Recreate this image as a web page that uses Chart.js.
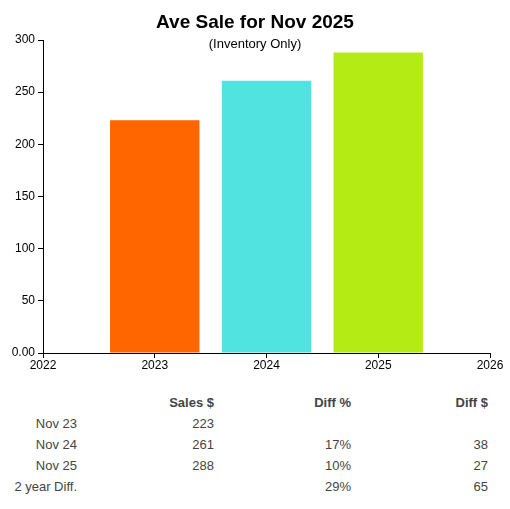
<!DOCTYPE html>
<html lang="en">

<head>
    <meta charset="UTF-8">
    <title>Ave Sale</title>
    <script src="https://cdn.jsdelivr.net/npm/chart.js"></script>
    <style>
        body {
            margin: 0;
            background: #fff;
            font-family: "Liberation Sans", Arial, sans-serif;
        }

        .page {
            position: relative;
            width: 510px;
            height: 509px;
        }

        .chart-box {
            position: absolute;
            left: 0;
            top: 0;
            width: 510px;
            height: 375px;
        }

        .title {
            position: absolute;
            left: 0;
            width: 510px;
            text-align: center;
            color: #000;
        }

        #mainTitle {
            top: 10px;
            font-size: 19px;
            font-weight: bold;
            line-height: 24px;
        }

        #subTitle {
            top: 36px;
            font-size: 13px;
            line-height: 16px;
        }

        /* summary table under the chart */
        #summary {
            position: absolute;
            left: 0;
            top: 392px;
            border-collapse: collapse;
            table-layout: fixed;
            color: #444;
            font-size: 13px;
        }

        #summary td,
        #summary th {
            padding: 0;
            height: 21px;
            text-align: right;
            white-space: nowrap;
        }

        #summary th {
            font-weight: bold;
        }
    </style>
</head>

<body>
    <div class="page">
        <div class="chart-box">
            <canvas id="saleChart"></canvas>
        </div>
        <div class="title" id="mainTitle">Ave Sale for Nov 2025</div>
        <div class="title" id="subTitle">(Inventory Only)</div>

        <table id="summary">
            <colgroup>
                <col style="width:77px">
                <col style="width:137px">
                <col style="width:137px">
                <col style="width:137px">
            </colgroup>
            <thead>
                <tr>
                    <th></th>
                    <th>Sales $</th>
                    <th>Diff %</th>
                    <th>Diff $</th>
                </tr>
            </thead>
            <tbody id="summaryBody"></tbody>
        </table>
    </div>

    <script>
        // chart data
        const years = [2023, 2024, 2025];
        const aveSales = [223, 261, 288];
        const barColors = ['#ff6600', '#50e3e0', '#b5eb14'];

        // table data
        const rowLabels = ['Nov 23', 'Nov 24', 'Nov 25', '2 year Diff.'];
        const salesCol = ['223', '261', '288', ''];
        const diffPctCol = ['', '17%', '10%', '29%'];
        const diffAmtCol = ['', '38', '27', '65'];

        Chart.defaults.font.family = '"Liberation Sans", Arial, sans-serif';
        Chart.defaults.font.size = 12;
        Chart.defaults.color = '#000';

        const ctx = document.getElementById('saleChart').getContext('2d');
        new Chart(ctx, {
            type: 'bar',
            data: {
                datasets: [{
                    label: 'Ave Sale',
                    data: years.map((yr, i) => ({ x: yr, y: aveSales[i] })),
                    backgroundColor: barColors,
                    borderWidth: 0,
                    categoryPercentage: 0.8,
                    barPercentage: 1
                }]
            },
            options: {
                responsive: true,
                maintainAspectRatio: false,
                animation: false,
                layout: {
                    padding: { top: 40, right: 20, left: 0, bottom: 0 }
                },
                plugins: {
                    legend: { display: false },
                    tooltip: { enabled: false }
                },
                scales: {
                    x: {
                        type: 'linear',
                        offset: false,
                        min: 2022,
                        max: 2026,
                        ticks: {
                            stepSize: 1,
                            padding: 0,
                            callback: v => String(v)
                        },
                        grid: {
                            offset: false,
                            drawOnChartArea: false,
                            color: '#000',
                            tickLength: 5
                        },
                        border: { color: '#000' },
                        afterFit: scale => { scale.height = 22; }
                    },
                    y: {
                        min: 0,
                        max: 300,
                        ticks: {
                            stepSize: 50,
                            padding: 3,
                            callback: v => v === 0 ? '0.00' : v
                        },
                        grid: {
                            drawOnChartArea: false,
                            color: '#000',
                            tickLength: 5
                        },
                        border: { color: '#000' },
                        afterFit: scale => { scale.width = 43; }
                    }
                }
            }
        });

        // fill the summary table
        const tbody = document.getElementById('summaryBody');
        rowLabels.forEach((label, i) => {
            const tr = document.createElement('tr');
            [label, salesCol[i], diffPctCol[i], diffAmtCol[i]].forEach(txt => {
                const td = document.createElement('td');
                td.textContent = txt;
                tr.appendChild(td);
            });
            tbody.appendChild(tr);
        });
    </script>
</body>

</html>
